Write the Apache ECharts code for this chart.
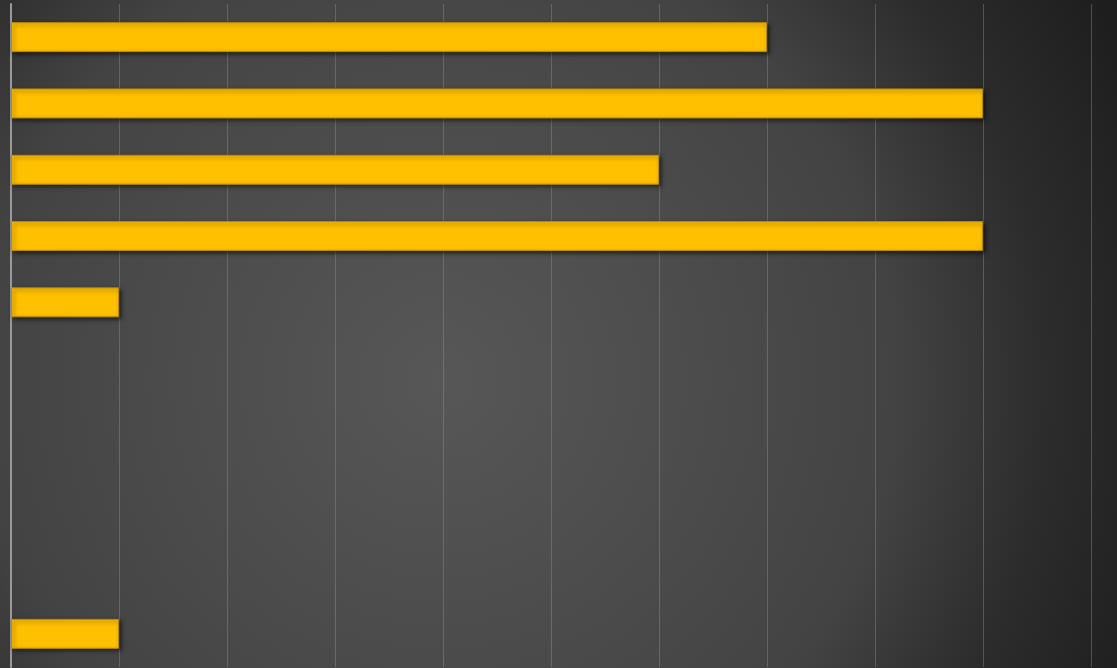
<!DOCTYPE html>
<html>
<head>
<meta charset="utf-8">
<script src="https://cdn.jsdelivr.net/npm/echarts@6/dist/echarts.min.js"></script>
<style>html,body{margin:0;padding:0;background:#2a2a2a;}#c{width:1117px;height:668px;}</style>
</head>
<body>
<div id="c"></div>
<script>
var categories = ['A', 'B', 'C', 'D', 'E', 'F', 'G', 'H', 'I', 'J'];
var values = [7, 9, 6, 9, 1, 0, 0, 0, 0, 1];
var xTicks = [0, 1, 2, 3, 4, 5, 6, 7, 8, 9, 10];

var seriesData = values.map(function (v) {
  if (v === 0) {
    return {value: v, itemStyle: {borderWidth: 0, shadowBlur: 0, shadowOffsetX: 0, shadowOffsetY: 0, opacity: 0}};
  }
  return v;
});

var chart = echarts.init(document.getElementById('c'));
chart.setOption({
  animation: false,
  backgroundColor: {
    type: 'radial', x: 440, y: 380, r: 760, global: true,
    colorStops: [
      {offset: 0, color: '#575757'},
      {offset: 0.4, color: '#4a4a4a'},
      {offset: 0.6, color: '#434343'},
      {offset: 0.8, color: '#2c2c2c'},
      {offset: 1, color: '#1e1e1e'}
    ]
  },
  grid: {left: 11, right: 26, top: 4, bottom: 1, containLabel: false},
  xAxis: {
    type: 'value', min: xTicks[0], max: xTicks[xTicks.length - 1], interval: 1,
    axisLabel: {show: false}, axisTick: {show: false}, axisLine: {show: false},
    splitLine: {show: true, lineStyle: {color: 'rgba(150,150,150,0.4)', width: 1}}
  },
  yAxis: {
    type: 'category', data: categories, inverse: true,
    axisLabel: {show: false}, axisTick: {show: false},
    axisLine: {show: true, lineStyle: {color: '#9a9a9a', width: 2}},
    splitLine: {show: false}
  },
  series: [{
    type: 'bar', data: seriesData, barWidth: 30,
    itemStyle: {
      color: '#FFC000', borderColor: '#b88a00', borderWidth: 1,
      shadowColor: 'rgba(0,0,0,0.55)', shadowBlur: 4, shadowOffsetX: 2, shadowOffsetY: 2
    }
  }]
});
</script>
</body>
</html>
